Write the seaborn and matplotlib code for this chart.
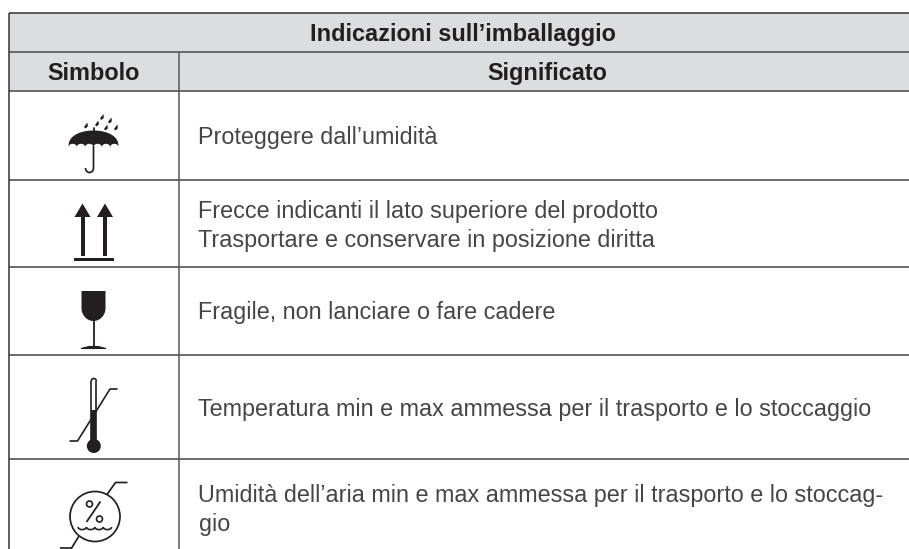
import numpy as np
import matplotlib
matplotlib.use("Agg")
import matplotlib.pyplot as plt
from matplotlib.patches import Polygon, Circle, Rectangle
import seaborn as sns

title = "Indicazioni sull\u2019imballaggio"
col_headers = ["Simbolo", "Significato"]
meanings = [
    ["Proteggere dall\u2019umidit\u00e0"],
    ["Frecce indicanti il lato superiore del prodotto",
     "Trasportare e conservare in posizione diritta"],
    ["Fragile, non lanciare o fare cadere"],
    ["Temperatura min e max ammessa per il trasporto e lo stoccaggio"],
    ["Umidit\u00e0 dell\u2019aria min e max ammessa per il trasporto e lo stoccag-",
     "gio"],
]

sns.set_theme(style="white")
plt.rcParams["font.family"] = ["Liberation Sans", "DejaVu Sans"]

W, H = 909, 549
fig = plt.figure(figsize=(W / 100, H / 100), dpi=100, facecolor="white")
ax = fig.add_axes([0, 0, 1, 1])
ax.set_xlim(0, W)
ax.set_ylim(H, 0)
ax.axis("off")

INK = "#231f20"
TXT = "#454547"
LINE = "#58595b"
FILL = "#dcddde"
FS = 16.85
FSB = 16.9

# table structure
left, mid = 8.5, 178.5
rows = [13, 52, 90.5, 179.5, 267, 355, 458.5]
ax.add_patch(Rectangle((left, rows[0]), W - left, rows[2] - rows[0], fc=FILL, ec="none", zorder=0))
ax.hlines(rows[0], left, W, color="#333333", lw=1.1, zorder=2)
ax.hlines(rows[1:], left, W, color=LINE, lw=1.25, zorder=2)
ax.vlines(left, rows[0], H, color="#333333", lw=1.1, zorder=2)
ax.vlines(mid, rows[1], H, color=LINE, lw=1.1, zorder=2)

ax.text(462.5, 40.5, title, ha="center", va="baseline", fontsize=FSB, fontweight="bold", color=INK)
ax.text(93.5, 80, col_headers[0], ha="center", va="baseline", fontsize=FSB, fontweight="bold", color=INK)
ax.text(547, 80, col_headers[1], ha="center", va="baseline", fontsize=FSB, fontweight="bold", color=INK)

baselines = [[144], [218, 247], [319], [416], [502, 530.5]]
for lines, ys in zip(meanings, baselines):
    for t, y in zip(lines, ys):
        ax.text(198.5, y, t, ha="left", va="baseline", fontsize=FS, color=TXT)


def line(xs, ys, lw=1.0, **kw):
    ax.plot(xs, ys, color=INK, lw=lw, solid_capstyle="butt", solid_joinstyle="round", **kw)


# umbrella
cx = 93.5
th = np.linspace(np.pi, 0, 40)
top_x = cx + 25 * np.cos(th)
top_y = 147 - 16.5 * np.sin(th) ** 0.8
sc_x, sc_y = [], []
edges = np.linspace(cx + 25, cx - 25, 7)
for a, b in zip(edges[:-1], edges[1:]):
    t = np.linspace(0, np.pi, 10)
    sc_x.extend((a + b) / 2 + (a - b) / 2 * np.cos(t))
    sc_y.extend(147 - 3.2 * np.sin(t))
ax.add_patch(Polygon(np.c_[np.r_[top_x, sc_x], np.r_[top_y, sc_y]], fc=INK, ec="none"))
ax.plot([cx, cx], [128, 131], color=INK, lw=1.3)
t = np.linspace(0, np.pi, 20)
hx = cx - 4 + 4 * np.cos(t)
hy = 168 + 4.5 * np.sin(t)
line(np.r_[cx, hx], np.r_[146, hy], lw=1.25)
drops = [(86, 126), (97, 124), (106, 128), (116, 128), (102, 117.5), (110, 121)]
for dx, dy in drops:
    ax.add_patch(Polygon([(dx + 1.5, dy - 3.4), (dx + 1.8, dy + 0.5), (dx - 0.4, dy + 2.4),
                          (dx - 2, dy + 1.2), (dx - 0.8, dy - 0.8)], fc=INK, ec="none"))

# arrows
for ax_x in (82.5, 105):
    ax.add_patch(Polygon([(ax_x, 203.5), (ax_x - 8, 217), (ax_x + 8, 217)], fc=INK, ec="none"))
    ax.add_patch(Rectangle((ax_x - 2, 216), 4, 39.5, fc=INK, ec="none"))
ax.add_patch(Rectangle((73.5, 257.5), 40, 3.5, fc=INK, ec="none"))

# glass
t = np.linspace(0, np.pi / 2, 15)
right = np.c_[93.5 + 12 * np.cos(t), 308 + 13 * np.sin(t)]
cup = np.vstack([[(81.5, 291), (105.5, 291)], right, right[::-1] * [-1, 1] + [187, 0]])
ax.add_patch(Polygon(cup, fc=INK, ec="none"))
line([93.5, 93.5], [320, 347], lw=1.3)
ax.add_patch(Polygon([(81, 348.5), (89, 346.5), (98, 346.5), (106, 348.5)], fc=INK, ec=INK, lw=0.8))

# thermometer
tl, tr = 91.3, 96.3
line([tl, tl], [381, 442], lw=1.2)
line([tr, tr], [381, 442], lw=1.2)
t = np.linspace(np.pi, 0, 15)
line((tl + tr) / 2 + 2.5 * np.cos(t), 381 - 2.5 * np.sin(t), lw=1.2)
ax.add_patch(Rectangle((tl, 410), tr - tl, 32, fc=INK, ec="none"))
ax.add_patch(Circle((93.8, 446), 7, fc=INK, ec="none"))
line([69.5, 77.5, 110, 117.5], [441, 441, 389, 389], lw=1.2)

# humidity
ax.add_patch(Circle((95, 516.5), 25, fc="none", ec=INK, lw=1.25))
line([107, 115.5, 127.5], [494.5, 482.5, 482.5], lw=1.25)
line([79, 71], [536, 549], lw=1.25)
line([60, 71], [547.5, 547.5], lw=1.25)
ax.add_patch(Circle((89.5, 504), 3, fc="none", ec=INK, lw=1.2))
ax.add_patch(Circle((99.5, 519), 3, fc="none", ec=INK, lw=1.2))
line([86.5, 100.5], [522, 501.5], lw=1.3)
for i in range(4):
    t = np.linspace(np.pi, 2 * np.pi, 12)
    line(78 + 4.2 + i * 8.4 + 4.2 * np.cos(t), 527 - 2.6 * np.sin(t), lw=1.2)

fig.savefig("out.png", dpi=100, facecolor="white")
